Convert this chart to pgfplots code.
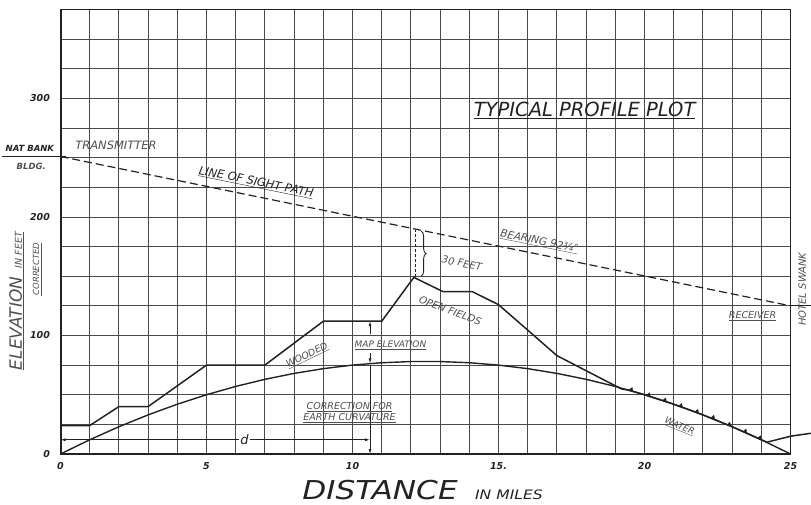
\documentclass[border=0pt]{standalone}
\usepackage{fontspec}
\setmainfont{DejaVu Sans}
\usepackage{pgfplots}
\pgfplotsset{compat=1.18}
\usetikzlibrary{arrows.meta,decorations.pathreplacing}

\definecolor{ink}{HTML}{222222}
\definecolor{gridc}{HTML}{4A4A4A}
\definecolor{note}{HTML}{4F4F4F}

\newcommand{\fs}[1]{\fontsize{#1}{#1}\selectfont}

\begin{document}
\begin{tikzpicture}[font=\itshape]
\begin{axis}[
  scale only axis, width=730pt, height=444.5pt,
  xmin=0, xmax=25, ymin=0, ymax=375,
  xtick={0,5,10,15,20,25}, xticklabels={0,5,10,15.,20,25},
  ytick={0,100,200,300},
  minor xtick={1,...,24}, minor ytick={25,50,...,350},
  grid=both,
  major grid style={gridc, line width=0.85pt},
  minor grid style={gridc, line width=0.85pt},
  major tick length=0pt, minor tick length=0pt,
  axis line style={ink, line width=1.2pt},
  clip=false,
  /pgf/number format/assume math mode=true,
  tick label style={font=\itshape\bfseries\fs{9.5}, text=ink},
  xticklabel style={yshift=-5pt},
  yticklabel style={xshift=-7pt},
]
% map elevation profile along the path
\addplot[ink, line width=1.5pt] coordinates {
  (0,24) (1,24) (2,40) (3,40) (5,75) (7,75) (9,112) (11,112)
  (12.1,149) (13.1,137) (14.1,137) (15,126) (17,83) (19.2,55)
  (19.5,53.6) (20,50) (20.5,46.1) (21,42) (21.5,37.6) (22,33)
  (22.5,28.1) (23,23) (23.5,17.6) (24,12) (24.2,10) (25,15) (25.7,17.5)
};
% correction for earth curvature (k = 4/3)
\addplot[ink, line width=1.4pt] coordinates {
  (0,0) (1,12) (2,23) (3,33) (4,42) (5,50) (6,57) (7,63) (8,68) (9,72)
  (10,75) (11,77) (12,78) (13,78) (14,77) (15,75) (16,72) (17,68)
  (18,63) (19,57) (20,50) (21,42) (22,33) (23,23) (24,12) (25,0)
};
% water surface hatching
\addplot[only marks, mark=triangle*, mark size=2.3pt, ink, mark options={rotate=-20}] coordinates {
  (19.55,54.3) (20.15,49.9) (20.7,45.5) (21.25,40.8) (21.8,35.9)
  (22.35,30.9) (22.9,25.0) (23.45,19.2) (23.95,13.6)
};
% line of sight, transmitter to receiver
\addplot[ink, line width=1.2pt, dash pattern=on 8pt off 4pt] coordinates {
  (0,251) (25,125)
};
\addplot[ink, line width=1.2pt] coordinates {(-2.0,251) (0.2,251)};
\addplot[ink, line width=1.2pt] coordinates {(25,125) (25.8,125)};

% heavier left and bottom frame
\draw[ink, line width=2pt] (axis cs:0,375) -- (axis cs:0,0) -- (axis cs:25,0);

% clearance over the ridge
\draw[ink, line width=0.7pt, dash pattern=on 3pt off 2pt] (axis cs:12.15,149) -- (axis cs:12.15,189);
\draw[ink, line width=0.9pt, decorate, decoration={brace, amplitude=5pt}]
  (axis cs:12.35,188) -- (axis cs:12.35,150);

% map elevation dimension
\draw[ink, line width=0.7pt, -{Latex[length=5pt,width=3pt]}] (axis cs:10.6,101) -- (axis cs:10.6,112);
\draw[ink, line width=0.7pt, -{Latex[length=5pt,width=3pt]}] (axis cs:10.6,85) -- (axis cs:10.6,76.5);
\draw[ink, line width=0.7pt, -{Latex[length=5pt,width=3pt]}] (axis cs:10.6,75) -- (axis cs:10.6,0);
% distance d
\draw[ink, line width=0.8pt, {Latex[length=5pt,width=3pt]}-{Latex[length=5pt,width=3pt]}]
  (axis cs:0,12) -- (axis cs:10.6,12);
\node[fill=white, inner sep=1pt, font=\itshape\fs{13}, text=ink] at (axis cs:6.3,12) {d};

% labels
\node[font=\itshape\fs{19.5}, text=ink] at (axis cs:17.95,290) {\underline{TYPICAL PROFILE PLOT}};
\node[font=\itshape\bfseries\fs{8.5}, text=ink] at (axis cs:-1.05,258) {NAT BANK};
\node[font=\itshape\bfseries\fs{8.5}, text=note] at (axis cs:-1.0,243) {BLDG.};
\node[font=\itshape\fs{11.5}, text=note] at (axis cs:1.9,260) {TRANSMITTER};
\node[font=\itshape\fs{11.5}, text=ink, rotate=-11.5] at (axis cs:6.7,229) {\underline{LINE OF SIGHT PATH}};
\node[font=\itshape\fs{10.5}, text=note, rotate=-11.5] at (axis cs:16.4,179) {\underline{BEARING 92¾°}};
\node[font=\itshape\fs{10}, text=note, rotate=-11] at (axis cs:13.75,161) {30 FEET};
\node[font=\itshape\fs{10}, text=note, rotate=-20] at (axis cs:13.35,121) {OPEN FIELDS};
\node[font=\itshape\fs{9.5}, text=note, rotate=26] at (axis cs:8.45,83) {\underline{WOODED}};
\node[font=\itshape\fs{9}, text=note] at (axis cs:11.3,92) {\underline{MAP ELEVATION}};
\node[font=\itshape\fs{9.5}, text=note, align=center] at (axis cs:9.9,35)
  {\underline{CORRECTION FOR}\\[1pt]\underline{EARTH CURVATURE}};
\node[font=\itshape\fs{9}, text=note, rotate=-22] at (axis cs:21.2,23) {\underline{WATER}};
\node[font=\itshape\fs{9.5}, text=note] at (axis cs:23.7,116) {\underline{RECEIVER}};
\node[font=\itshape\fs{10}, text=note, rotate=90] at (axis cs:25.4,139) {HOTEL SWANK};

% axis titles
\node[font=\itshape\fs{26}, text=ink, xscale=1.2] at (axis cs:12.4,-30)
  {DISTANCE\hspace{0.4em}{\fs{13} IN MILES}};
\node[font=\itshape\fs{17}, text=note, rotate=90] at (axis cs:-1.5,129)
  {\underline{ELEVATION {\fs{9.5} IN FEET}}};
\node[font=\itshape\fs{8.5}, text=note, rotate=90] at (axis cs:-0.8,156)
  {\underline{CORRECTED}};
\end{axis}
\pgfresetboundingbox
\path ([shift={(-60.5pt,-50pt)}]current axis.south west) rectangle ([shift={(20.5pt,9.5pt)}]current axis.north east);
\end{tikzpicture}
\end{document}
